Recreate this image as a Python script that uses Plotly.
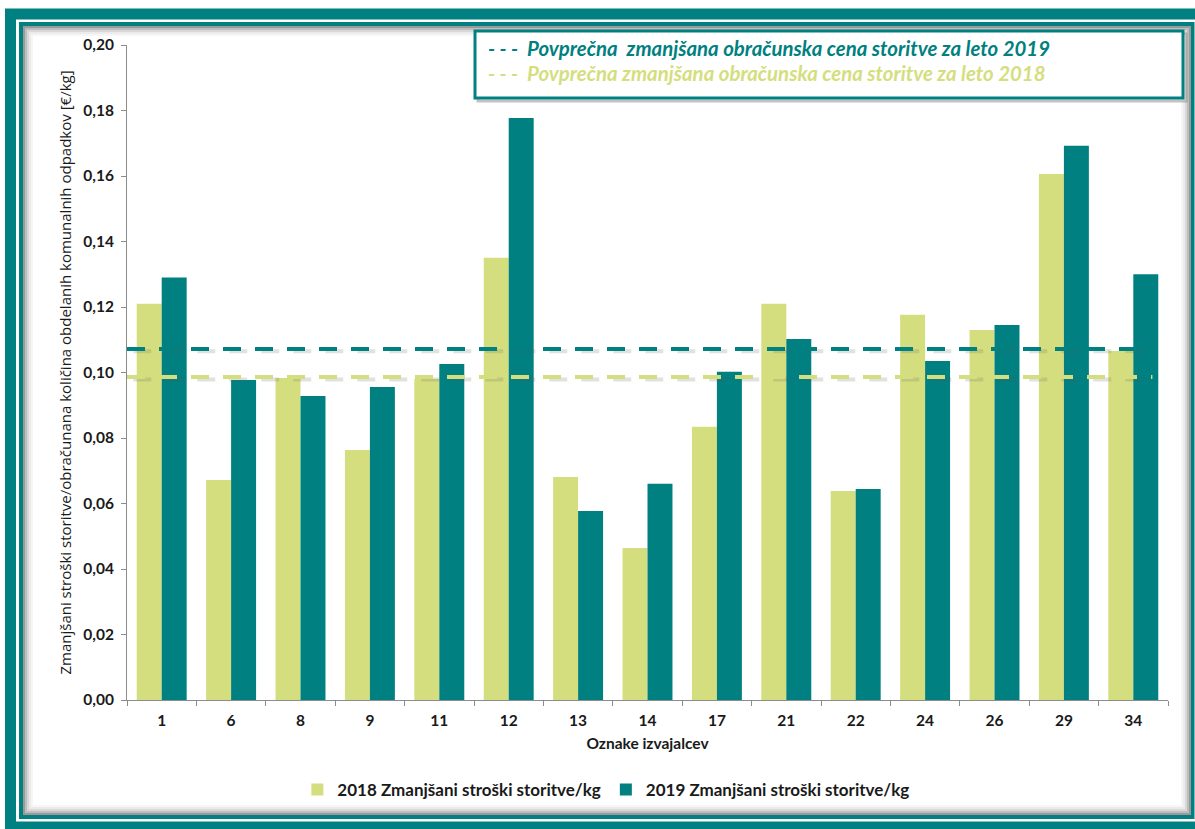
import plotly.graph_objects as go

categories = ["1", "6", "8", "9", "11", "12", "13", "14", "17", "21", "22", "24", "26", "29", "34"]
values_2018 = [0.121, 0.0672, 0.0983, 0.0763, 0.0980, 0.135, 0.0681, 0.0464, 0.0834, 0.121, 0.0638, 0.1176, 0.1130, 0.1606, 0.1066]
values_2019 = [0.129, 0.0977, 0.0928, 0.0956, 0.1026, 0.1777, 0.0577, 0.0660, 0.1002, 0.1102, 0.0644, 0.1035, 0.1145, 0.1692, 0.1300]
avg_2019 = 0.1072
avg_2018 = 0.0986
name_2018 = "2018 Zmanjšani stroški storitve/kg"
name_2019 = "2019 Zmanjšani stroški storitve/kg"
avg_label_2019 = "Povprečna  zmanjšana obračunska cena storitve za leto 2019"
avg_label_2018 = "Povprečna zmanjšana obračunska cena storitve za leto 2018"
y_title = "Zmanjšani stroški storitve/obračunana količina obdelanih komunalnih odpadkov [€/kg]"
x_title = "Oznake izvajalcev"

TEAL = "#008080"
YEL = "#D5DE7E"
TXT = "#1a1a1a"
W, H = 1195, 829
L, R, T, B = 127, 1168, 45, 700

def px(x):
    return (x - L) / (R - L)

def py(y):
    return (B - y) / (B - T)

fig = go.Figure()
fig.add_trace(go.Bar(x=categories, y=values_2018, name=name_2018, marker=dict(color=YEL, line=dict(width=0))))
fig.add_trace(go.Bar(x=categories, y=values_2019, name=name_2019, marker=dict(color=TEAL, line=dict(width=0))))

shapes = []
# outer frame
shapes.append(dict(type="rect", xref="paper", yref="paper", x0=px(10.5), x1=px(1201), y0=py(14), y1=py(827),
                   line=dict(color=TEAL, width=11), fillcolor="rgba(0,0,0,0)", layer="below"))
shapes.append(dict(type="rect", xref="paper", yref="paper", x0=px(21), x1=px(1192.5), y0=py(24), y1=py(817),
                   line=dict(color=TEAL, width=4), fillcolor="rgba(0,0,0,0)", layer="below"))
for i, c in enumerate(["#9a9a9a", "#bdbdbd", "#d8d8d8", "#ebebeb", "#f6f6f6"]):
    o = 24 + i * 2
    shapes.append(dict(type="rect", xref="paper", yref="paper", x0=px(o), x1=px(1190 - (o - 24)), y0=py(o + 3), y1=py(814 - (o - 24)),
                       line=dict(color=c, width=2), fillcolor="rgba(0,0,0,0)", layer="below"))
# average lines
for val, col in [(avg_2019, TEAL), (avg_2018, YEL)]:
    shapes.append(dict(type="line", xref="x domain", yref="y", x0=0.006, x1=0.99, y0=val - 0.0007, y1=val - 0.0007,
                       line=dict(color="rgba(90,90,90,0.18)", width=4, dash="18px,14px"), layer="above"))
    shapes.append(dict(type="line", xref="x domain", yref="y", x0=0.0, x1=0.985, y0=val, y1=val,
                       line=dict(color=col, width=4, dash="18px,14px"), layer="above"))
# legend box
shapes.append(dict(type="rect", xref="paper", yref="paper", x0=px(478), x1=px(1186), y0=py(34), y1=py(101),
                   line=dict(color="rgba(120,120,120,0.45)", width=3), fillcolor="white"))
shapes.append(dict(type="rect", xref="paper", yref="paper", x0=px(475), x1=px(1183), y0=py(31), y1=py(98),
                   line=dict(color=TEAL, width=3), fillcolor="white"))

annotations = [
    dict(xref="paper", yref="paper", x=px(486), y=py(48), xanchor="left", yanchor="middle", showarrow=False,
         text="<b><i>- - -  " + avg_label_2019 + "</i></b>", font=dict(family="Lato", size=20.4, color=TEAL)),
    dict(xref="paper", yref="paper", x=px(486), y=py(73), xanchor="left", yanchor="middle", showarrow=False,
         text="<b><i>- - -  " + avg_label_2018 + "</i></b>", font=dict(family="Lato", size=20.4, color=YEL)),
]

fig.update_layout(
    width=W, height=H,
    margin=dict(l=L, r=W - R, t=T, b=H - B),
    paper_bgcolor="white", plot_bgcolor="white",
    separators=", ",
    barmode="group", bargap=0.28, bargroupgap=0.0,
    shapes=shapes, annotations=annotations,
    showlegend=True,
    legend=dict(orientation="h", x=0.46, xanchor="center", y=py(790), yanchor="middle",
                font=dict(family="Lato", size=17, color=TXT, weight="bold"),
                bgcolor="rgba(0,0,0,0)", itemwidth=30, tracegroupgap=0),
    font=dict(family="Lato", color=TXT),
)
fig.update_xaxes(type="category", showline=True, linecolor="#8c8c8c", linewidth=1,
                 ticks="outside", tickson="boundaries", ticklen=5, tickcolor="#8c8c8c",
                 ticklabelstandoff=6,
                 tickfont=dict(family="Lato", size=15.5, color=TXT, weight="bold"),
                 title=dict(text=x_title, font=dict(family="Lato", size=15.5, color=TXT, weight="bold"), standoff=10),
                 showgrid=False)
fig.update_yaxes(range=[0, 0.2], dtick=0.02, tickformat=".2f", showline=True, linecolor="#8c8c8c", linewidth=1,
                 ticks="outside", ticklen=5, tickcolor="#8c8c8c",
                 ticklabelstandoff=4,
                 tickfont=dict(family="Lato", size=15.5, color=TXT, weight="bold"),
                 title=dict(text=y_title, font=dict(family="Open Sans", size=15, color=TXT), standoff=8),
                 showgrid=False, zeroline=False)

fig.write_html("out.html", config={"displayModeBar": False},
               post_script="document.body.style.margin='0';document.body.style.overflow='hidden';")
